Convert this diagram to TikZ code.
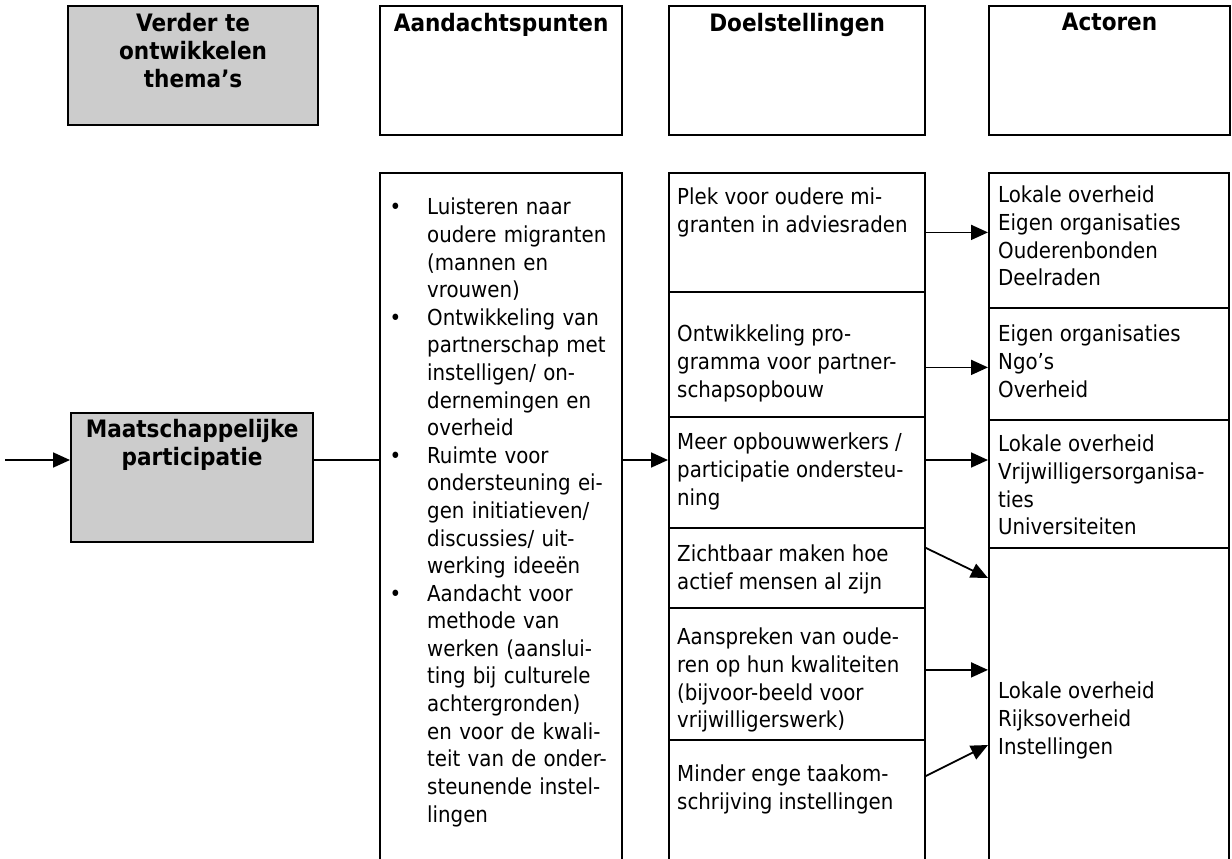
\documentclass[tikz,border=0pt]{standalone}
\usepackage{fontspec}
\setmainfont{DejaVu Sans Condensed}
\usetikzlibrary{arrows.meta,positioning}
\definecolor{themagrijs}{gray}{0.8}

\begin{document}
\begin{tikzpicture}[x=1pt,y=-1pt,
  every node/.style={font=\fontsize{22}{27.6}\selectfont},
  kop/.style={draw,line width=2.2pt,anchor=north west},
  cel/.style={draw,line width=1.8pt,anchor=north west},
  tekst/.style={inner sep=0pt,align=left},
  koptekst/.style={inner sep=0pt,align=center,font=\fontsize{24}{28}\selectfont\bfseries},
  pijl/.style={line width=1.8pt,-{Triangle[length=17pt,width=15pt]}}]
\useasboundingbox (0,0) rectangle (1232,859);
\clip (0,0) rectangle (1232,859);
% kopjes
        \node[kop,fill=themagrijs,minimum width=250pt,minimum height=119pt] (thema) at (67,5) {};
        \node[koptekst,below=8pt of thema.north] (thematekst) {Verder te\\ontwikkelen\\thema’s};
        \node[kop,minimum width=242pt,minimum height=129pt] (aandkop) at (379,5) {};
        \node[koptekst,below=8pt of aandkop.north] (aandkoptekst) {Aandachtspunten};
        \node[kop,minimum width=256pt,minimum height=129pt] (doelkop) at (668,5) {};
        \node[koptekst,below=8pt of doelkop.north] (doelkoptekst) {Doelstellingen};
        \node[kop,minimum width=241pt,minimum height=129pt] (actorkop) at (988,5) {};
        \node[koptekst,below=8pt of actorkop.north] (actorkoptekst) {Actoren};
% thema
        \node[kop,fill=themagrijs,minimum width=242pt,minimum height=129pt] (maats) at (70,412) {};
        \node[koptekst,below=7pt of maats.north] (maatstekst) {Maatschappelijke\\participatie};
% aandachtspunten
        \node[kop,minimum width=242pt,minimum height=708pt] (aand) at (379,172) {};
        \node[tekst,text width=250pt,below right=15pt and 0pt of aand.north west] (punten) {%
        \begin{list}{\textbullet}{\setlength{\leftmargin}{48pt}\setlength{\labelwidth}{15pt}%
          \setlength{\labelsep}{26pt}\setlength{\itemsep}{0pt}\setlength{\parsep}{0pt}%
          \setlength{\topsep}{0pt}\setlength{\partopsep}{0pt}}
        \item Luisteren naar\\oudere migranten\\(mannen en\\vrouwen)
        \item Ontwikkeling van\\partnerschap met\\instelligen/ on-\\dernemingen en\\overheid
        \item Ruimte voor\\ondersteuning ei-\\gen initiatieven/\\discussies/ uit-\\werking ideeën
        \item Aandacht voor\\methode van\\werken (aanslui-\\ting bij culturele\\achtergronden)\\en voor de kwali-\\teit van de onder-\\steunende instel-\\lingen
        \end{list}};
% doelstellingen
        \foreach \naam/\boven/\hoogte in {d1/172/119pt,d2/291/125pt,d3/416/111pt,d4/527/80pt,d5/607/132pt,d6/739/141pt} {
                \node[cel,minimum width=256pt,minimum height=\hoogte] (\naam) at (668,\boven) {};
        }
        \node[tekst,below right=16pt and 9pt of d1.north west] (d1tekst) {Plek voor oudere mi-\\granten in adviesraden};
        \node[tekst,below right=34pt and 9pt of d2.north west] (d2tekst) {Ontwikkeling pro-\\gramma voor partner-\\schapsopbouw};
        \node[tekst,below right=17pt and 9pt of d3.north west] (d3tekst) {Meer opbouwwerkers /\\participatie ondersteu-\\ning};
        \node[tekst,below right=18pt and 9pt of d4.north west] (d4tekst) {Zichtbaar maken hoe\\actief mensen al zijn};
        \node[tekst,below right=21pt and 9pt of d5.north west] (d5tekst) {Aanspreken van oude-\\ren op hun kwaliteiten\\(bijvoor-beeld voor\\vrijwilligerswerk)};
        \node[tekst,below right=26pt and 9pt of d6.north west] (d6tekst) {Minder enge taakom-\\schrijving instellingen};
% actoren
        \foreach \naam/\boven/\hoogte in {a1/172/135pt,a2/307/112pt,a3/419/128pt,a4/547/333pt} {
                \node[cel,minimum width=240pt,minimum height=\hoogte] (\naam) at (988,\boven) {};
        }
        \node[tekst,below right=14pt and 10pt of a1.north west] (a1tekst) {Lokale overheid\\Eigen organisaties\\Ouderenbonden\\Deelraden};
        \node[tekst,below right=18pt and 10pt of a2.north west] (a2tekst) {Eigen organisaties\\Ngo’s\\Overheid};
        \node[tekst,below right=16pt and 10pt of a3.north west] (a3tekst) {Lokale overheid\\Vrijwilligersorganisa-\\ties\\Universiteiten};
        \node[tekst,below right=135pt and 10pt of a4.north west] (a4tekst) {Lokale overheid\\Rijksoverheid\\Instellingen};
% verbindingen
        \coordinate (in) at (5,460);
        \coordinate (p2) at ([yshift=-13pt]d2.east);
        \coordinate (p4) at ([yshift=20pt]d4.east);
        \coordinate (q4) at ([yshift=-31pt]a4.north west);
        \coordinate (p5) at ([yshift=4pt]d5.east);
        \coordinate (p6) at ([yshift=-37pt]d6.north east);
        \coordinate (q6) at ([yshift=-198pt]a4.north west);
        \draw[pijl] (in) -- (in -| maats.west);
        \draw[line width=1.2pt] (maats.east |- in) -- (in -| aand.west);
        \draw[pijl] (in -| aand.east) -- (in -| d3.west);
        \draw[pijl] (d1.east) -- (d1.east -| a1.west);
        \draw[pijl] (p2) -- (p2 -| a2.west);
        \draw[pijl] (d3.east |- in) -- (in -| a3.west);
        \draw[pijl] (p4) -- (q4);
        \draw[pijl] (p5) -- (p5 -| a4.west);
        \draw[pijl] (p6) -- (q6);
\end{tikzpicture}
\end{document}
